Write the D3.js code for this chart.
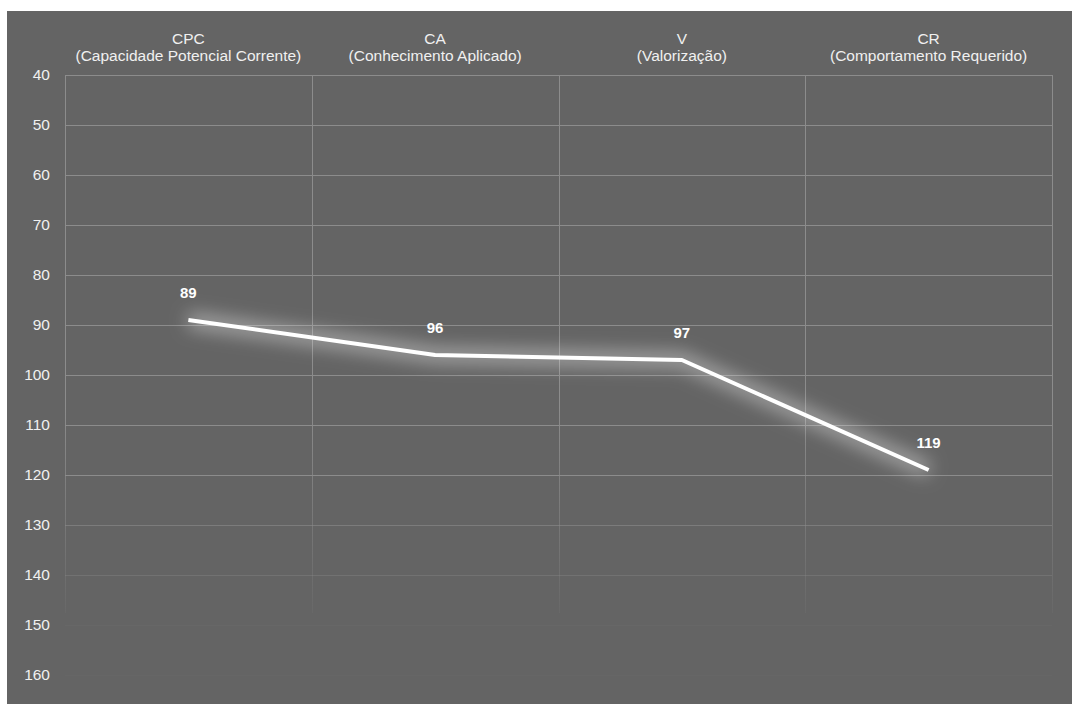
<!DOCTYPE html>
<html><head><meta charset="utf-8">
<script src="https://cdn.jsdelivr.net/npm/d3@7"></script>
<style>body{margin:0;background:#fff}svg{display:block}</style>
</head><body><svg id="c" width="1072" height="704"></svg>
<script>
const codes = ["CPC", "CA", "V", "CR"];
const names = ["(Capacidade Potencial Corrente)", "(Conhecimento Aplicado)", "(Valorização)", "(Comportamento Requerido)"];
const values = [89, 96, 97, 119];
const yTicks = [40, 50, 60, 70, 80, 90, 100, 110, 120, 130, 140, 150, 160];

const svg = d3.select("#c");
const font = "Liberation Sans, Arial, sans-serif";
svg.append("rect").attr("x", 7).attr("y", 11).attr("width", 1065).attr("height", 693).attr("fill", "#646464");

const x = d3.scaleBand().domain(codes).range([65, 1052]).padding(0);
const y = d3.scaleLinear().domain([40, 160]).range([75, 675]);

const defs = svg.append("defs");
const f = defs.append("filter").attr("id", "glow").attr("x", "-20%").attr("y", "-60%").attr("width", "140%").attr("height", "220%");
f.append("feGaussianBlur").attr("stdDeviation", 9);

// horizontal gridlines with fading toward bottom
svg.append("g").selectAll("line").data(yTicks).join("line")
  .attr("x1", 65).attr("x2", 1052)
  .attr("y1", d => y(d) + 0.5).attr("y2", d => y(d) + 0.5)
  .attr("stroke", "#8c8c8c")
  .attr("stroke-opacity", d => d <= 120 ? 1 : d === 130 ? 0.6 : d === 140 ? 0.35 : d === 150 ? 0.08 : 0.06);

// vertical lines (band edges) fading
const vg = defs.append("linearGradient").attr("id", "vfade").attr("gradientUnits", "userSpaceOnUse")
  .attr("x1", 0).attr("x2", 0).attr("y1", y(40)).attr("y2", y(150));
vg.append("stop").attr("offset", "0%").attr("stop-color", "#8c8c8c").attr("stop-opacity", 1);
vg.append("stop").attr("offset", "60%").attr("stop-color", "#8c8c8c").attr("stop-opacity", 1);
vg.append("stop").attr("offset", "100%").attr("stop-color", "#8c8c8c").attr("stop-opacity", 0.05);
const edges = codes.map(c => x(c)).concat([x(codes[codes.length - 1]) + x.bandwidth()]);
svg.append("g").selectAll("line").data(edges).join("line")
  .attr("x1", d => Math.round(d) + 0.5).attr("x2", d => Math.round(d) + 0.5)
  .attr("y1", y(40)).attr("y2", y(150) - 12)
  .attr("stroke", "url(#vfade)");

// y axis labels
const yAxis = d3.axisLeft(y).tickValues(yTicks).tickSize(0).tickPadding(15);
const ya = svg.append("g").attr("transform", "translate(65,0)").call(yAxis);
ya.select(".domain").remove();
ya.selectAll("text").attr("fill", "#f0f0f0").attr("font-size", 15.5).attr("font-family", font);

// top category headers
const hdr = svg.append("g").selectAll("text").data(codes).join("text")
  .attr("x", d => x(d) + x.bandwidth() / 2)
  .attr("text-anchor", "middle").attr("fill", "#f0f0f0").attr("font-size", 15.5).attr("font-family", font);
hdr.append("tspan").attr("x", d => x(d) + x.bandwidth() / 2).attr("y", 44).text(d => d);
hdr.append("tspan").attr("x", d => x(d) + x.bandwidth() / 2).attr("y", 61).text((d, i) => names[i]);

// line
const pts = codes.map((c, i) => [x(c) + x.bandwidth() / 2, y(values[i])]);
const line = d3.line();
svg.append("path").attr("d", line(pts)).attr("fill", "none").attr("stroke", "#ffffff")
  .attr("stroke-opacity", 0.45).attr("stroke-width", 14).attr("filter", "url(#glow)");
svg.append("path").attr("d", line(pts)).attr("fill", "none").attr("stroke", "#ffffff")
  .attr("stroke-width", 4).attr("stroke-linejoin", "round");

// value labels
svg.append("g").selectAll("text").data(values).join("text")
  .attr("x", (d, i) => pts[i][0]).attr("y", (d, i) => pts[i][1] - 22)
  .attr("text-anchor", "middle").attr("fill", "#ffffff").attr("font-weight", "bold")
  .attr("font-size", 15).attr("font-family", font).text(d => d);
</script></body></html>
